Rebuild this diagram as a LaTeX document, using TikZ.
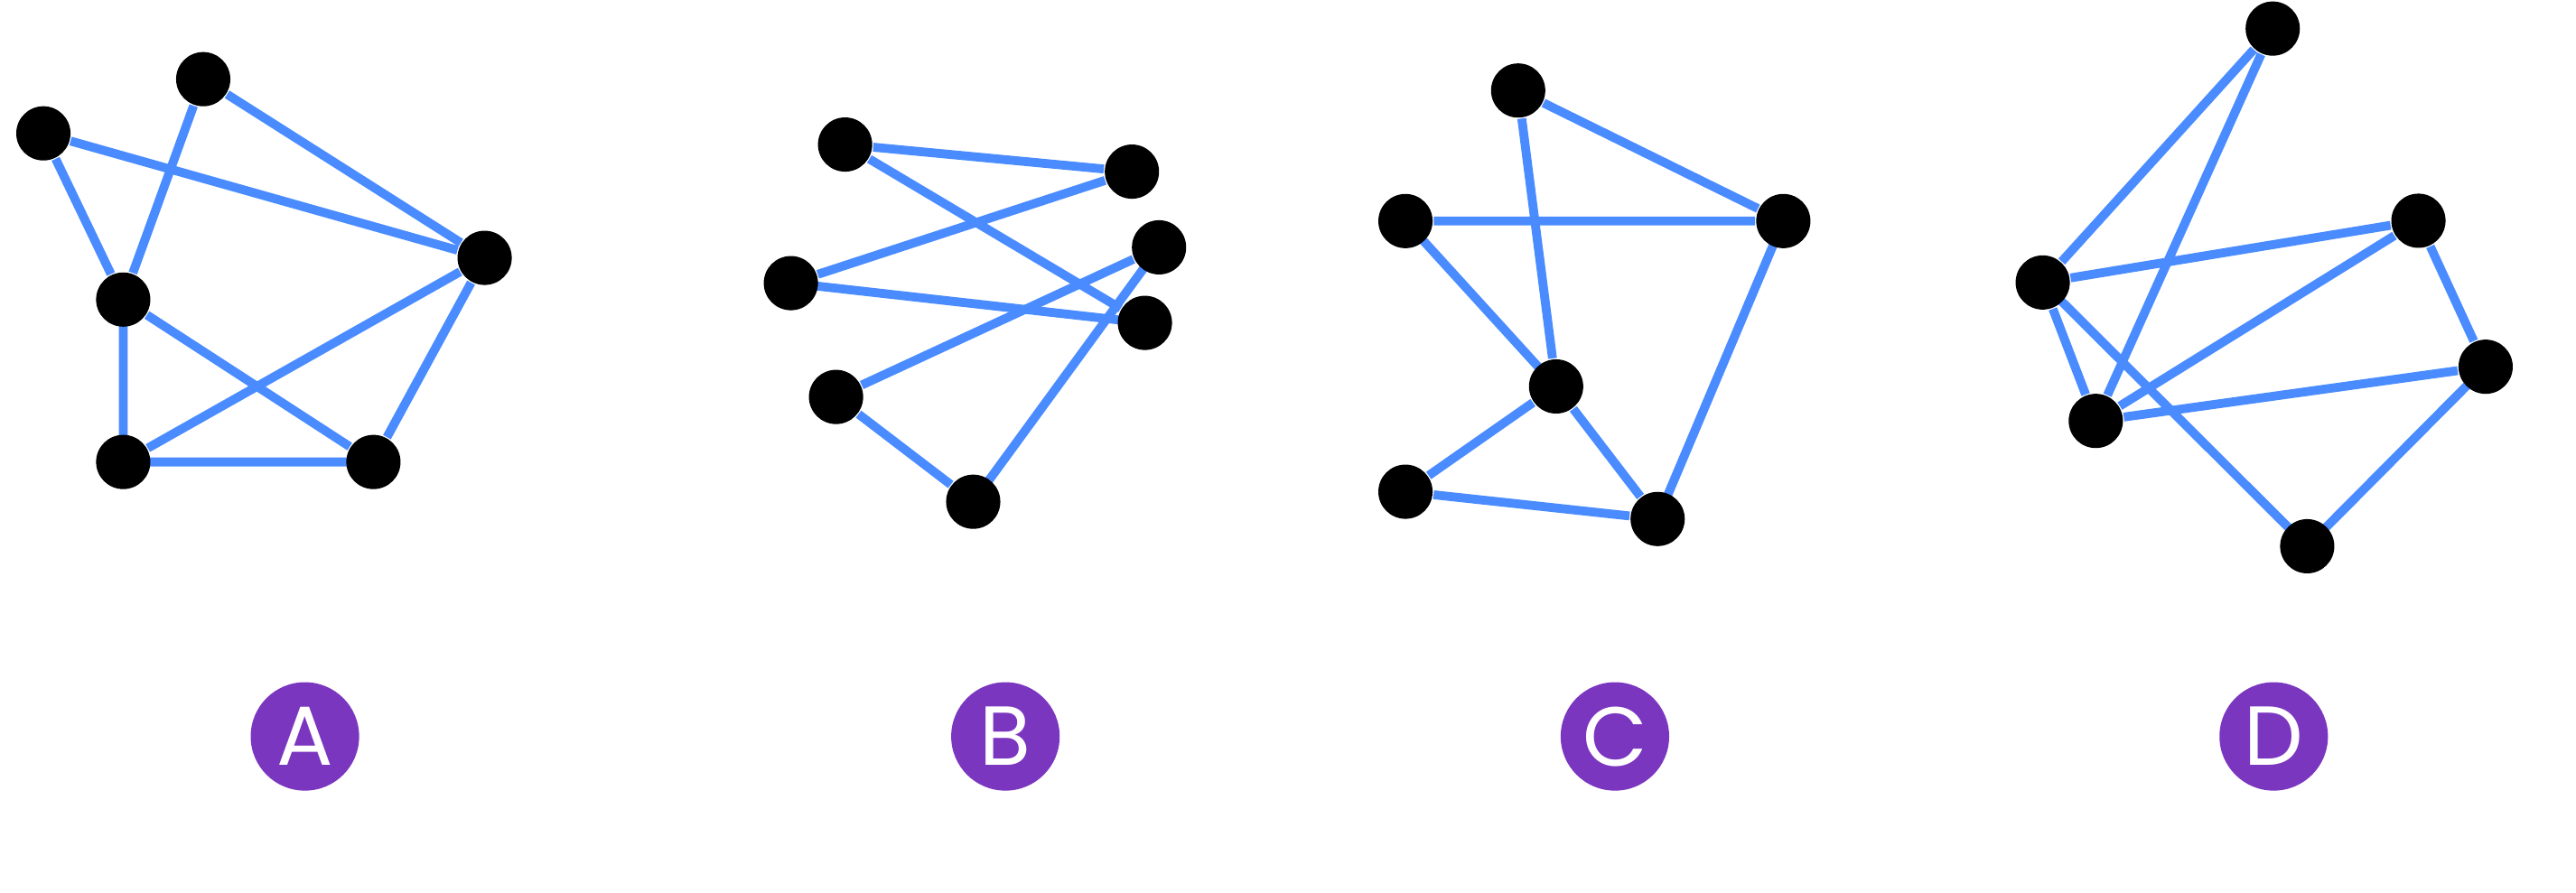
\documentclass[tikz,border=0pt]{standalone}
\usepackage{fontspec}
\usetikzlibrary{backgrounds}
\newfontfamily\badgefont{Poppins}
\definecolor{edgeblue}{HTML}{4A8CFF}
\definecolor{badgepurple}{HTML}{7B36C0}

\begin{document}
\begin{tikzpicture}[
		x=0.01cm, y=-0.01cm,
		vertex/.style={circle, fill=black, inner sep=0pt, minimum size=0.33cm},
		link/.style={edgeblue, line width=0.054cm, shorten <=-4pt, shorten >=-4pt},
		badge/.style={circle, fill=badgepurple, inner sep=0pt, minimum size=0.66cm, text=white, font=\badgefont\fontsize{14.5}{14.5}\selectfont},
	]
		\useasboundingbox (0,0) rectangle (1568,543.2);
		
		% graph A
		\node[vertex] (a1) at (26.4,81.2) {};
		\node[vertex] (a2) at (123.7,48.2) {};
		\node[vertex] (a3) at (295,157) {};
		\node[vertex] (a4) at (75,182.4) {};
		\node[vertex] (a5) at (75,281.3) {};
		\node[vertex] (a6) at (227.3,281.3) {};
		
		% graph B
		\node[vertex] (b1) at (514.4,88) {};
		\node[vertex] (b2) at (689,104.5) {};
		\node[vertex] (b3) at (705.5,150.6) {};
		\node[vertex] (b4) at (696.9,196.6) {};
		\node[vertex] (b5) at (481.4,172.4) {};
		\node[vertex] (b6) at (508.9,241.7) {};
		\node[vertex] (b7) at (592.4,305.5) {};
		
		% graph C
		\node[vertex] (c1) at (924.1,55.1) {};
		\node[vertex] (c2) at (1085.5,134.6) {};
		\node[vertex] (c3) at (855.5,134.6) {};
		\node[vertex] (c4) at (947.2,235.3) {};
		\node[vertex] (c5) at (855.5,299.4) {};
		\node[vertex] (c6) at (1009,316) {};
		
		% graph D
		\node[vertex] (d1) at (1383.4,17.4) {};
		\node[vertex] (d2) at (1472.1,134.4) {};
		\node[vertex] (d3) at (1243.4,172) {};
		\node[vertex] (d4) at (1513,223.3) {};
		\node[vertex] (d5) at (1275.7,256.3) {};
		\node[vertex] (d6) at (1404.4,332.6) {};
		
		\begin{scope}[on background layer]
			\draw[link] (a1) -- (a4) (a1) -- (a3) (a2) -- (a4) (a2) -- (a3) (a4) -- (a5);
			\draw[link] (a4) -- (a6) (a5) -- (a3) (a3) -- (a6) (a5) -- (a6);
			\draw[link] (b1) -- (b2) (b1) -- (b4) (b5) -- (b2) (b5) -- (b4);
			\draw[link] (b6) -- (b3) (b6) -- (b7) (b7) -- (b3);
			\draw[link] (c1) -- (c2) (c1) -- (c4) (c3) -- (c2) (c3) -- (c4);
			\draw[link] (c4) -- (c5) (c4) -- (c6) (c5) -- (c6) (c2) -- (c6);
			\draw[link] (d1) -- (d3) (d1) -- (d5) (d3) -- (d2) (d3) -- (d5) (d3) -- (d6);
			\draw[link] (d5) -- (d2) (d5) -- (d4) (d2) -- (d4) (d4) -- (d6);
		\end{scope}
		
		% answer labels
		\node[badge] (optA) at (185.6,448.4) {A};
		\node[badge] (optB) at (612,448.4) {B};
		\node[badge] (optC) at (983,448.4) {C};
		\node[badge] (optD) at (1384,448.4) {D};
	\end{tikzpicture}
\end{document}
